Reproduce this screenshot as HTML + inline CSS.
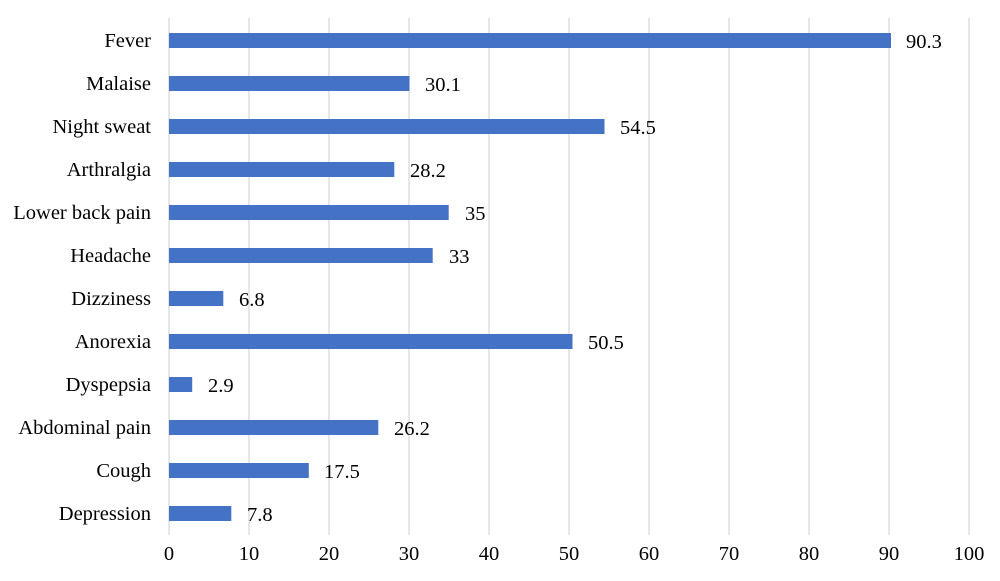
<!DOCTYPE html>
<html><head><meta charset="utf-8"><style>
html,body{margin:0;padding:0;background:#fff;}
svg text{font-family:"Liberation Serif",serif;font-size:20.5px;fill:#000;}
</style></head><body>
<svg width="1000" height="576" xmlns="http://www.w3.org/2000/svg">
<g stroke="#d9d9d9" stroke-width="1.3">
<line x1="169" y1="18" x2="169" y2="535"/>
<line x1="249" y1="18" x2="249" y2="535"/>
<line x1="329" y1="18" x2="329" y2="535"/>
<line x1="409" y1="18" x2="409" y2="535"/>
<line x1="489" y1="18" x2="489" y2="535"/>
<line x1="569" y1="18" x2="569" y2="535"/>
<line x1="649" y1="18" x2="649" y2="535"/>
<line x1="729" y1="18" x2="729" y2="535"/>
<line x1="809" y1="18" x2="809" y2="535"/>
<line x1="889" y1="18" x2="889" y2="535"/>
<line x1="969" y1="18" x2="969" y2="535"/>
</g>
<g fill="#4472c4">
<rect x="169" y="33" width="722" height="15"/>
<rect x="169" y="76" width="240.5" height="15"/>
<rect x="169" y="119" width="435.5" height="15"/>
<rect x="169" y="162" width="225.3" height="15"/>
<rect x="169" y="205" width="279.7" height="15"/>
<rect x="169" y="248" width="263.7" height="15"/>
<rect x="169" y="291" width="54.3" height="15"/>
<rect x="169" y="334" width="403.5" height="15"/>
<rect x="169" y="377" width="23.2" height="15"/>
<rect x="169" y="420" width="209.3" height="15"/>
<rect x="169" y="463" width="139.8" height="15"/>
<rect x="169" y="506" width="62.3" height="15"/>
</g>
<g text-anchor="end">
<text x="151" y="47">Fever</text>
<text x="151" y="90">Malaise</text>
<text x="151" y="133">Night sweat</text>
<text x="151" y="176">Arthralgia</text>
<text x="151" y="219">Lower back pain</text>
<text x="151" y="262">Headache</text>
<text x="151" y="305">Dizziness</text>
<text x="151" y="348">Anorexia</text>
<text x="151" y="391">Dyspepsia</text>
<text x="151" y="434">Abdominal pain</text>
<text x="151" y="477">Cough</text>
<text x="151" y="520">Depression</text>
</g>
<g>
<text x="906" y="48">90.3</text>
<text x="425" y="91">30.1</text>
<text x="620" y="134">54.5</text>
<text x="410" y="177">28.2</text>
<text x="465" y="220">35</text>
<text x="449" y="263">33</text>
<text x="239" y="306">6.8</text>
<text x="588" y="349">50.5</text>
<text x="208" y="392">2.9</text>
<text x="394" y="435">26.2</text>
<text x="324" y="478">17.5</text>
<text x="247" y="521">7.8</text>
</g>
<g text-anchor="middle">
<text x="169" y="560">0</text>
<text x="249" y="560">10</text>
<text x="329" y="560">20</text>
<text x="409" y="560">30</text>
<text x="489" y="560">40</text>
<text x="569" y="560">50</text>
<text x="649" y="560">60</text>
<text x="729" y="560">70</text>
<text x="809" y="560">80</text>
<text x="889" y="560">90</text>
<text x="969" y="560">100</text>
</g>
</svg>
</body></html>
